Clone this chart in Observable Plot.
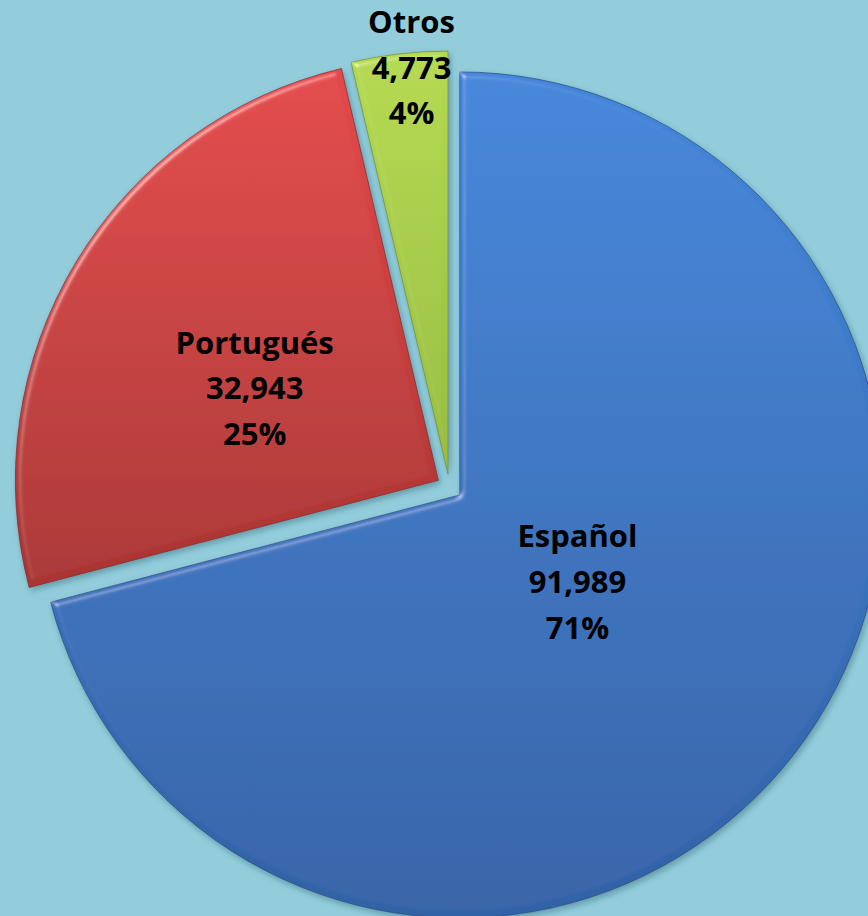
<!DOCTYPE html>
<html>
<head>
<meta charset="utf-8">
<script src="https://cdn.jsdelivr.net/npm/d3@7"></script>
<script src="https://cdn.jsdelivr.net/npm/@observablehq/plot@0.6"></script>
<style>
  html, body { margin: 0; padding: 0; background: #93CDDC; }
  #chart { width: 868px; height: 916px; overflow: hidden; }
</style>
</head>
<body>
<div id="chart"></div>
<script>
// ---- data ----
const categories = ["Español", "Portugués", "Otros"];
const values = [91989, 32943, 4773];
const sliceColors = [
  ["#4386DA", "#3262A6"],
  ["#E4494A", "#A93432"],
  ["#B4D94F", "#98BC3E"]
];

// ---- layout (in radius units) ----
const W = 868, H = 916;
const Rpx = 423, CX = 449.5, CY = 487;
const explode = 13 / Rpx;
const labelPos = [ // [radius from exploded apex, angle in degrees clockwise from north]
  [0.345, 126.6],
  [0.487, 296.6],
  [0.965, 354.8]
];

const total = d3.sum(values);
const pie = d3.pie().sort(null).value(d => d.value)(
  categories.map((c, i) => ({category: c, value: values[i], i}))
);
const fmt = d3.format(",");

const rows = pie.map((p, i) => {
  const mid = (p.startAngle + p.endAngle) / 2;
  const ex = explode * Math.sin(mid), ey = explode * Math.cos(mid);
  const [lr, la] = labelPos[i];
  const a = la * Math.PI / 180;
  return {
    ...p,
    ex, ey,
    lx: ex + lr * Math.sin(a),
    ly: ey + lr * Math.cos(a),
    label: `${p.data.category}\n${fmt(p.data.value)}\n${Math.round(p.data.value / total * 100)}%`
  };
});

function slices(index, scales) {
  const x = scales.x, y = scales.y;
  const R = x(1) - x(0);
  const g = d3.create("svg:g");
  const defs = g.append("defs");
  sliceColors.forEach((c, i) => {
    const lg = defs.append("linearGradient")
      .attr("id", "grad" + i)
      .attr("x1", 0).attr("x2", 0)
      .attr("y1", 0).attr("y2", 1);
    lg.append("stop").attr("offset", "0%").attr("stop-color", c[0]);
    lg.append("stop").attr("offset", "100%").attr("stop-color", c[1]);
  });
  const sh = defs.append("filter").attr("id", "shadow")
    .attr("x", "-10%").attr("y", "-10%").attr("width", "120%").attr("height", "120%");
  sh.append("feDropShadow").attr("dx", 2).attr("dy", 3).attr("stdDeviation", 3)
    .attr("flood-color", "#1d4a5a").attr("flood-opacity", 0.4);
  const bev = defs.append("filter").attr("id", "bevel")
    .attr("x", "-5%").attr("y", "-5%").attr("width", "110%").attr("height", "110%");
  bev.append("feGaussianBlur").attr("in", "SourceAlpha").attr("stdDeviation", 3).attr("result", "b");
  const spec = bev.append("feSpecularLighting").attr("in", "b")
    .attr("surfaceScale", 4).attr("specularConstant", 0.8).attr("specularExponent", 35)
    .attr("lighting-color", "#ffffff").attr("result", "s");
  spec.append("feDistantLight").attr("azimuth", 225).attr("elevation", 40);
  bev.append("feComposite").attr("in", "s").attr("in2", "SourceAlpha").attr("operator", "in").attr("result", "s2");
  bev.append("feComposite").attr("in", "SourceGraphic").attr("in2", "s2")
    .attr("operator", "arithmetic").attr("k1", 0).attr("k2", 1).attr("k3", 0.4).attr("k4", 0);

  const arc = d3.arc().innerRadius(0).outerRadius(R);
  const gs = g.append("g").attr("filter", "url(#shadow)");
  rows.forEach((r, i) => {
    gs.append("path")
      .attr("transform", `translate(${x(r.ex)},${y(r.ey)})`)
      .attr("d", arc(r))
      .attr("fill", `url(#grad${i})`)
      .attr("stroke", d3.color(sliceColors[i][1]).darker(0.8))
      .attr("stroke-opacity", 0.7)
      .attr("stroke-width", 1)
      .attr("filter", "url(#bevel)");
  });
  return g.node();
}

const chart = Plot.plot({
  width: W,
  height: H,
  margin: 0,
  style: {background: "#93CDDC", overflow: "hidden"},
  x: {domain: [-CX / Rpx, (W - CX) / Rpx], axis: null},
  y: {domain: [-(H - CY) / Rpx, CY / Rpx], axis: null},
  marks: [
    slices,
    Plot.text(rows, {
      x: "lx", y: "ly", text: "label", dy: -4,
      fontSize: 31, fontWeight: "bold", fontFamily: "Open Sans",
      lineHeight: 1.47, fill: "#000"
    })
  ]
});
document.getElementById("chart").appendChild(chart);
</script>
</body>
</html>
